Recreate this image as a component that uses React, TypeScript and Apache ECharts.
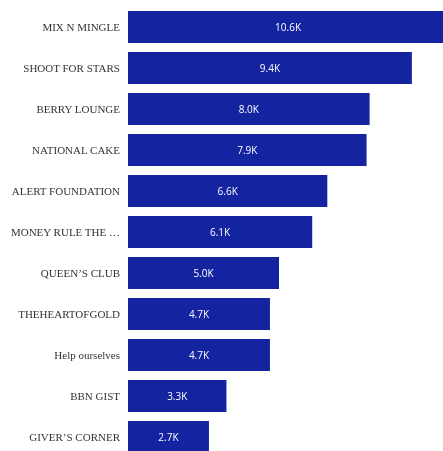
import React, { useEffect, useRef } from "react";
import * as echarts from "echarts";

const categories = [
  "MIX N MINGLE",
  "SHOOT FOR STARS",
  "BERRY LOUNGE",
  "NATIONAL CAKE",
  "ALERT FOUNDATION",
  "MONEY RULE THE …",
  "QUEEN’S CLUB",
  "THEHEARTOFGOLD",
  "Help ourselves",
  "BBN GIST",
  "GIVER’S CORNER",
];
const values = [10600, 9400, 8000, 7900, 6600, 6100, 5000, 4700, 4700, 3260, 2680];

export default function App() {
  const ref = useRef<HTMLDivElement>(null);
  useEffect(() => {
    document.body.style.margin = "0";
    const chart = echarts.init(ref.current!, null, { renderer: "svg" });
    chart.setOption({
      animation: false,
      grid: { left: 128, top: 6.5, width: 332.2, height: 451, containLabel: false },
      xAxis: {
        type: "value",
        min: 0,
        max: 11000,
        show: false,
      },
      yAxis: {
        type: "category",
        inverse: true,
        data: categories,
        axisLine: { show: false },
        axisTick: { show: false },
        axisLabel: {
          margin: 8,
          color: "#333333",
          fontFamily: "'Liberation Serif', 'Times New Roman', serif",
          fontSize: 11,
        },
      },
      series: [
        {
          type: "bar",
          data: values,
          barCategoryGap: "22%",
          itemStyle: { color: "#1423A0" },
          label: {
            show: true,
            position: "inside",
            color: "#ffffff",
            fontFamily: "'Open Sans', 'Noto Sans', sans-serif",
            fontSize: 10,
            formatter: (p: any) => (p.value / 1000).toFixed(1) + "K",
          },
        },
      ],
    });
    return () => chart.dispose();
  }, []);
  return (
    <div
      ref={ref}
      style={{ position: "fixed", left: 0, top: 0, width: 480, height: 470 }}
    />
  );
}
